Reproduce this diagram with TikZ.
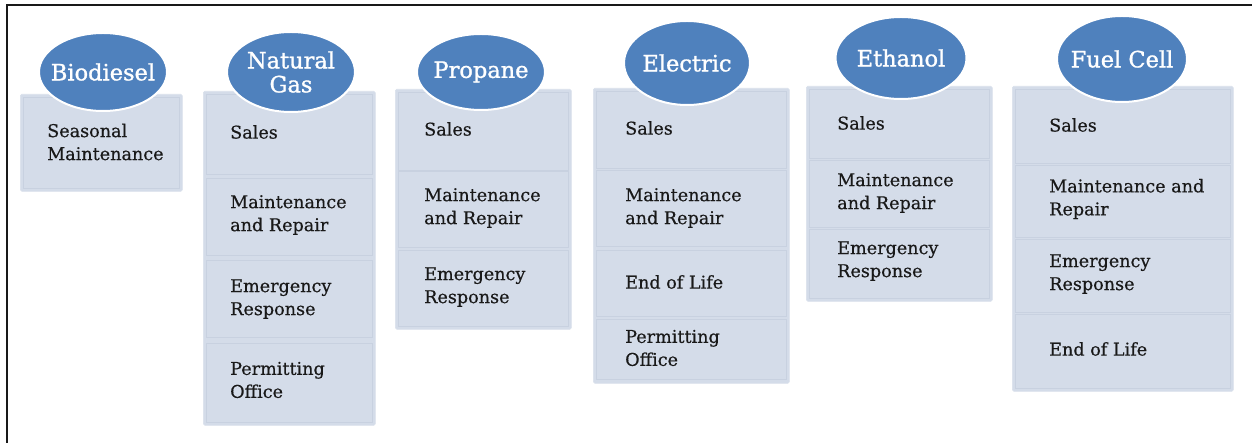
\documentclass[tikz,border=0pt]{standalone}
\usepackage{fontspec}
\setmainfont{DejaVu Serif}[FakeBold=0.5]
\newfontfamily\hubfont{DejaVu Serif}[FakeBold=1.2]
\usetikzlibrary{shapes.geometric}
\definecolor{hubblue}{HTML}{4F81BD}
\definecolor{panelfill}{HTML}{D4DCE9}
\definecolor{itemline}{HTML}{C8D1E0}
\tikzset{
  panel/.style={fill=panelfill, draw=panelfill!85!white, line width=0.6pt, rounded corners=1.5pt},
  itembox/.style={draw=itemline, line width=1pt, fill=panelfill},
  hub/.style={ellipse, fill=hubblue, draw=white, line width=2pt, inner sep=0pt},
  hubtext/.style={text=white, inner sep=0pt, align=center, font=\hubfont\fontsize{22.5}{24}\selectfont},
  label/.style={anchor=west, align=left, inner sep=0pt, text=black!90, font=\fontsize{17.6}{23}\selectfont},
  frameline/.style={draw=black!90, line width=2pt}
}
\begin{document}
\begin{tikzpicture}[x=1pt,y=-1pt]
\useasboundingbox (0,0) rectangle (1252,443);
\fill[white] (0,0) rectangle (1252,443);
\coordinate (ftop) at (1252,5);
\coordinate (fcorner) at (7,5);
\coordinate (fbot) at (7,443);
\draw[frameline] (ftop) -- (fcorner) -- (fbot);

% ---------- Biodiesel
\node[panel, anchor=north west, minimum width=162pt, minimum height=97pt, inner sep=0pt] (p1) at (20,94) {};
\node[itembox, anchor=north west, minimum width=156pt, minimum height=91pt, inner sep=0pt] (p1a) at (23,97) {};
\node[label] (t1a) at (47,142) {Seasonal\\Maintenance};
\node[hub, minimum width=128pt, minimum height=78pt] (h1) at (103,72) {};
\node[hubtext] (n1) at (h1) {Biodiesel};

% ---------- Natural Gas
\node[panel, anchor=north west, minimum width=172pt, minimum height=334pt, inner sep=0pt] (p2) at (203,91) {};
\node[itembox, anchor=north west, minimum width=166pt, minimum height=80pt, inner sep=0pt] (p2a) at (206,94) {};
\node[itembox, anchor=north west, minimum width=166pt, minimum height=77pt, inner sep=0pt] (p2b) at (206,178) {};
\node[itembox, anchor=north west, minimum width=166pt, minimum height=77pt, inner sep=0pt] (p2c) at (206,260) {};
\node[itembox, anchor=north west, minimum width=166pt, minimum height=79pt, inner sep=0pt] (p2d) at (206,343) {};
\node[label] (t2a) at (230,132) {Sales};
\node[label] (t2b) at (230,215) {Maintenance\\and Repair};
\node[label] (t2c) at (230,299) {Emergency\\Response};
\node[label] (t2d) at (230,380) {Permitting\\Office};
\node[hub, minimum width=128pt, minimum height=80pt] (h2) at (291,72) {};
\node[hubtext] (n2) at (h2) {Natural\\Gas};

% ---------- Propane
\node[panel, anchor=north west, minimum width=176pt, minimum height=240pt, inner sep=0pt] (p3) at (395,89) {};
\node[itembox, anchor=north west, minimum width=170pt, minimum height=78pt, inner sep=0pt] (p3a) at (398,92) {};
\node[itembox, anchor=north west, minimum width=170pt, minimum height=76pt, inner sep=0pt] (p3b) at (398,171) {};
\node[itembox, anchor=north west, minimum width=170pt, minimum height=76pt, inner sep=0pt] (p3c) at (398,250) {};
\node[label] (t3a) at (424,129) {Sales};
\node[label] (t3b) at (424,208) {Maintenance\\and Repair};
\node[label] (t3c) at (424,287) {Emergency\\Response};
\node[hub, minimum width=128pt, minimum height=76pt] (h3) at (481,72) {};
\node[hubtext] (n3) at (h3) {Propane};

% ---------- Electric
\node[panel, anchor=north west, minimum width=196pt, minimum height=295pt, inner sep=0pt] (p4) at (593,88) {};
\node[itembox, anchor=north west, minimum width=190pt, minimum height=77pt, inner sep=0pt] (p4a) at (596,91) {};
\node[itembox, anchor=north west, minimum width=190pt, minimum height=76pt, inner sep=0pt] (p4b) at (596,170) {};
\node[itembox, anchor=north west, minimum width=190pt, minimum height=66pt, inner sep=0pt] (p4c) at (596,250) {};
\node[itembox, anchor=north west, minimum width=190pt, minimum height=60pt, inner sep=0pt] (p4d) at (596,319) {};
\node[label] (t4a) at (625,128) {Sales};
\node[label] (t4b) at (625,208) {Maintenance\\and Repair};
\node[label] (t4c) at (625,282) {End of Life};
\node[label] (t4d) at (625,348) {Permitting\\Office};
\node[hub, minimum width=126pt, minimum height=84pt] (h4) at (687,63) {};
\node[hubtext] (n4) at (h4) {Electric};

% ---------- Ethanol
\node[panel, anchor=north west, minimum width=186pt, minimum height=215pt, inner sep=0pt] (p5) at (806,86) {};
\node[itembox, anchor=north west, minimum width=180pt, minimum height=69pt, inner sep=0pt] (p5a) at (809,89) {};
\node[itembox, anchor=north west, minimum width=180pt, minimum height=67pt, inner sep=0pt] (p5b) at (809,160) {};
\node[itembox, anchor=north west, minimum width=180pt, minimum height=69pt, inner sep=0pt] (p5c) at (809,229) {};
\node[label] (t5a) at (837,123) {Sales};
\node[label] (t5b) at (837,193) {Maintenance\\and Repair};
\node[label] (t5c) at (837,261) {Emergency\\Response};
\node[hub, minimum width=131pt, minimum height=82pt] (h5) at (901,58) {};
\node[hubtext] (n5) at (h5) {Ethanol};

% ---------- Fuel Cell
\node[panel, anchor=north west, minimum width=221pt, minimum height=305pt, inner sep=0pt] (p6) at (1012,86) {};
\node[itembox, anchor=north west, minimum width=215pt, minimum height=74pt, inner sep=0pt] (p6a) at (1015,89) {};
\node[itembox, anchor=north west, minimum width=215pt, minimum height=72pt, inner sep=0pt] (p6b) at (1015,165) {};
\node[itembox, anchor=north west, minimum width=215pt, minimum height=73pt, inner sep=0pt] (p6c) at (1015,239) {};
\node[itembox, anchor=north west, minimum width=215pt, minimum height=74pt, inner sep=0pt] (p6d) at (1015,314) {};
\node[label] (t6a) at (1049,125) {Sales};
\node[label] (t6b) at (1049,199) {Maintenance and\\Repair};
\node[label] (t6c) at (1049,274) {Emergency\\Response};
\node[label] (t6d) at (1049,349) {End of Life};
\node[hub, minimum width=130pt, minimum height=86pt] (h6) at (1122,59) {};
\node[hubtext] (n6) at (h6) {Fuel Cell};
\end{tikzpicture}
\end{document}
